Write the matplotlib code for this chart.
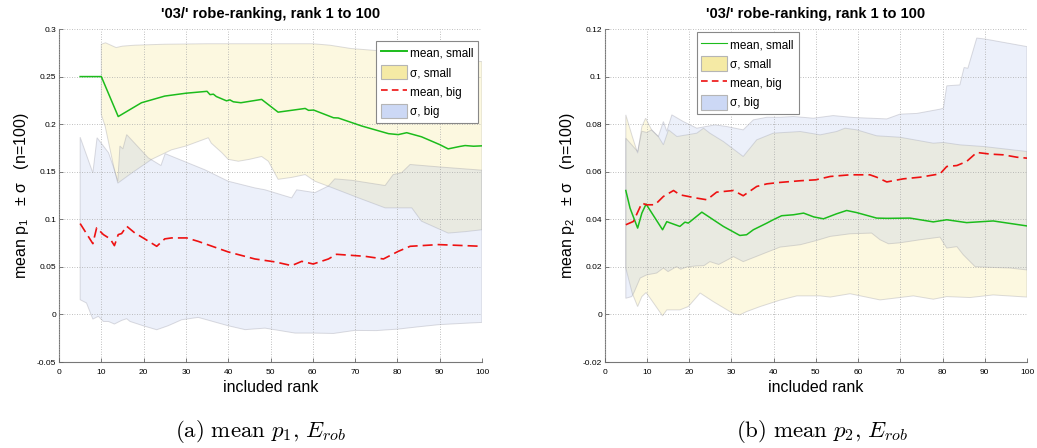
import numpy as np
import matplotlib
matplotlib.use("Agg")
import matplotlib.pyplot as plt
from matplotlib.lines import Line2D
from matplotlib.patches import Patch

plt.rcParams['font.family'] = ['Liberation Sans', 'DejaVu Sans']
plt.rcParams['mathtext.fontset'] = 'custom'
plt.rcParams['mathtext.rm'] = 'Liberation Sans'
plt.rcParams['mathtext.it'] = 'Liberation Sans'

# ---------------- left panel: mean p1 ----------------
l_small_mean_x = [5, 10, 14, 19.5, 25, 30, 35, 35.7, 36.5, 37.2, 38, 39.6, 40.4, 41.2, 43, 47.9, 51.8,
                  58.2, 59, 60.2, 64.9, 66, 71.6, 77.9, 80.2, 82.2, 85.7, 90, 92, 94.7, 96, 98, 100]
l_small_mean = [0.25, 0.25, 0.208, 0.2225, 0.2295, 0.2325, 0.2345, 0.231, 0.2315, 0.229, 0.2275, 0.2245,
                0.2255, 0.2235, 0.2225, 0.226, 0.2126, 0.2165, 0.2145, 0.2148, 0.2067, 0.2065, 0.198,
                0.190, 0.189, 0.191, 0.1867, 0.1785, 0.174, 0.1765, 0.1775, 0.1768, 0.1772]

l_big_mean_x = [5, 8, 8.9, 10.5, 12.1, 13.1, 14, 14.8, 16, 17.9, 19.9, 23.1, 25, 26.6, 30.2, 32.9, 40,
                46.3, 51.1, 55, 57.4, 60.1, 63.7, 65.6, 72.3, 76.7, 80.2, 83, 89.7, 100]
l_big_mean = [0.0955, 0.0744, 0.091, 0.0839, 0.0794, 0.0723, 0.0839, 0.085, 0.0927, 0.0857, 0.0804,
              0.0716, 0.0794, 0.0804, 0.0804, 0.0768, 0.0657, 0.0583, 0.0552, 0.0513, 0.0558, 0.053,
              0.0583, 0.0632, 0.0611, 0.0583, 0.0663, 0.0716, 0.0734, 0.0716]

l_small_up_x = [10, 11, 13.5, 15, 18, 25, 35, 50, 60, 64, 69, 76, 82, 88, 94, 100]
l_small_up = [0.284, 0.2855, 0.2805, 0.282, 0.283, 0.284, 0.2845, 0.2845, 0.2845, 0.283, 0.2795,
              0.277, 0.2745, 0.2715, 0.268, 0.2657]
l_small_lo_x = [10, 10.9, 12.9, 13.9, 17, 21.9, 26.6, 30, 35.3, 36, 38.5, 40, 42.4, 45, 47.9, 49.5,
                51.8, 55, 58.2, 60.5, 63.7, 70.8, 77.1, 83.4, 85.7, 92, 96, 100]
l_small_lo = [0.21, 0.198, 0.156, 0.138, 0.148, 0.163, 0.173, 0.177, 0.1857, 0.180, 0.170, 0.163,
              0.161, 0.163, 0.166, 0.161, 0.142, 0.144, 0.147, 0.140, 0.1347, 0.1225, 0.112, 0.112,
              0.098, 0.0855, 0.087, 0.089]

l_big_up_x = [5, 8, 9, 11.7, 12.8, 13.9, 14.4, 15.1, 16, 21.1, 24.1, 25.1, 34.5, 40, 46.3, 48.7, 55,
              56.2, 60.5, 63.7, 65.2, 69.2, 77.1, 79, 81, 83, 90, 100]
l_big_up = [0.1863, 0.1488, 0.1857, 0.170, 0.156, 0.140, 0.177, 0.174, 0.189, 0.1646, 0.1565, 0.169,
            0.152, 0.140, 0.133, 0.131, 0.1225, 0.131, 0.128, 0.135, 0.1425, 0.141, 0.1355, 0.147,
            0.149, 0.1576, 0.155, 0.1516]
l_big_lo_x = [5, 6.5, 8, 9.3, 10.5, 11.7, 13.1, 14.8, 16, 16.8, 19.9, 23.1, 25.8, 29, 32.9, 40, 44,
              48.7, 55.8, 60.1, 64.9, 69.9, 75, 80.2, 85, 89.7, 95, 100]
l_big_lo = [0.0155, 0.012, -0.0049, -0.002, -0.0074, -0.0074, -0.0101, -0.0063, -0.0045, -0.0074,
            -0.0119, -0.0161, -0.0119, -0.0056, -0.0031, -0.0119, -0.016, -0.0144, -0.0196, -0.0196,
            -0.020, -0.0168, -0.017, -0.0154, -0.013, -0.0108, -0.0095, -0.0084]

# ---------------- right panel: mean p2 ----------------
r_small_mean_x = [5, 6, 7.8, 8.8, 9.8, 13.7, 14.7, 17.8, 19, 19.8, 23, 28.1, 32, 33.6, 35.2, 36.8, 38.4,
                  39.9, 41.9, 44.7, 47.1, 49.5, 51.8, 54.9, 57.3, 59.7, 64.4, 66.8, 72.3, 77.8, 81,
                  85.7, 92, 100]
r_small_mean = [0.0521, 0.0447, 0.0363, 0.0426, 0.0464, 0.0356, 0.039, 0.037, 0.0388, 0.0384, 0.043,
                0.037, 0.0332, 0.0335, 0.0356, 0.037, 0.0384, 0.0398, 0.0415, 0.0419, 0.0426, 0.041,
                0.0402, 0.0423, 0.0437, 0.0428, 0.0405, 0.0404, 0.0405, 0.0389, 0.0398, 0.0386,
                0.0393, 0.0372]

r_big_mean_x = [5, 6.8, 8.8, 9.9, 11.9, 13.9, 16.3, 17.8, 21.8, 24.2, 26.5, 30.5, 32.8, 36, 38.4, 41.5,
                46.3, 50, 53.4, 58.1, 62.8, 64.4, 66.8, 70.7, 74.7, 79.4, 81, 83.4, 85.7, 88.1, 91.3,
                94.4, 97.6, 100]
r_big_mean = [0.0377, 0.0391, 0.0468, 0.0461, 0.0461, 0.0496, 0.0521, 0.0503, 0.0489, 0.0482, 0.0514,
              0.0521, 0.0499, 0.0538, 0.0549, 0.0555, 0.0562, 0.0566, 0.058, 0.0587, 0.0587, 0.0577,
              0.0557, 0.057, 0.0577, 0.0591, 0.0622, 0.0626, 0.0643, 0.0681, 0.0674, 0.0671, 0.0661,
              0.0657]

r_small_up_x = [5, 6.5, 7.8, 8.8, 9.7, 11.1, 12.7, 13.9, 15.1, 17.1, 21.8, 23.4, 24.9, 28.1, 32.8, 36,
                39.9, 46.3, 51, 54.9, 56.9, 59.7, 64.4, 69.9, 77.8, 80.2, 84.1, 89.7, 100]
r_small_up = [0.0839, 0.075, 0.0678, 0.079, 0.0825, 0.0776, 0.0748, 0.0713, 0.0776, 0.0748, 0.0762,
              0.0783, 0.0762, 0.0727, 0.0664, 0.0734, 0.0762, 0.0769, 0.0755, 0.0769, 0.0783, 0.0776,
              0.0751, 0.0745, 0.072, 0.0723, 0.0713, 0.0706, 0.0685]
r_small_lo_x = [5, 6.5, 7.8, 8.8, 9.8, 11.1, 13.7, 14.7, 17.8, 19.8, 22.6, 25.7, 30.5, 32, 33.6, 36.8,
                41.5, 45.5, 51, 53.4, 58.1, 65.2, 73.1, 77.8, 81, 86.5, 92, 100]
r_small_lo = [0.0195, 0.009, 0.0033, 0.0075, 0.0092, 0.006, -0.0006, 0.0019, 0.0019, 0.0033, 0.009,
              0.0054, 0.0003, -0.0002, 0.0012, 0.0033, 0.006, 0.0078, 0.0078, 0.0073, 0.0087, 0.0061,
              0.0078, 0.0064, 0.0075, 0.0071, 0.0082, 0.0073]

r_big_up_x = [5, 7.8, 8.8, 10, 11.1, 12.7, 13.9, 14.7, 15.9, 18.6, 21.8, 24.9, 26.1, 28.9, 32.8, 35.2,
              38.4, 41.5, 44.7, 49.4, 54.1, 58.9, 66.8, 69.9, 73.9, 79.4, 80.2, 81, 84.1, 85.1, 86,
              88.1, 90, 100]
r_big_up = [0.0741, 0.0685, 0.077, 0.0765, 0.0776, 0.0748, 0.0811, 0.077, 0.0839, 0.0811, 0.0783,
            0.0793, 0.0797, 0.079, 0.0776, 0.0818, 0.0829, 0.0829, 0.0832, 0.0825, 0.0836, 0.0828,
            0.0822, 0.0842, 0.0845, 0.0863, 0.0867, 0.0961, 0.0965, 0.1038, 0.1035, 0.1162, 0.1158,
            0.1126]
r_big_lo_x = [5, 6.4, 7, 8.4, 9.9, 12.3, 13.9, 15, 17, 18, 19.5, 21.8, 23.5, 24.9, 27, 30.5, 32.8, 36.8,
              41.5, 46.3, 50, 53.4, 58.1, 63.2, 65.2, 67.2, 69.9, 74.7, 79.4, 81, 83.4, 84.9, 87.7,
              89.7, 96, 100]
r_big_lo = [0.0068, 0.0075, 0.0095, 0.0153, 0.0166, 0.0174, 0.0195, 0.018, 0.0201, 0.019, 0.020,
            0.0204, 0.0205, 0.0222, 0.021, 0.0243, 0.0222, 0.025, 0.0283, 0.0293, 0.031, 0.0328,
            0.0339, 0.0342, 0.0314, 0.0297, 0.0301, 0.0314, 0.0325, 0.0279, 0.0285, 0.0251, 0.0201,
            0.0199, 0.0195, 0.0187]

x_ticks = [0, 10, 20, 30, 40, 50, 60, 70, 80, 90, 100]
l_yticks = [-0.05, 0, 0.05, 0.1, 0.15, 0.2, 0.25, 0.3]
l_ytick_labels = ['-0.05', '0', '0.05', '0.1', '0.15', '0.2', '0.25', '0.3']
r_yticks = [-0.02, 0, 0.02, 0.04, 0.06, 0.08, 0.1, 0.12]
r_ytick_labels = ['-0.02', '0', '0.02', '0.04', '0.06', '0.08', '0.1', '0.12']

title = "'03/' robe-ranking, rank 1 to 100"

GREEN = '#1cbc1c'
RED = '#ee1111'
YELLOW_FILL = (240/255, 220/255, 100/255, 0.2)
BLUE_FILL = (160/255, 180/255, 230/255, 0.2)
EDGE = (0.55, 0.55, 0.6, 0.3)


def band(ax, ux, uy, lx, ly, fc):
    # polygon: upper edge then lower edge reversed
    px = np.concatenate([ux, lx[::-1]])
    py = np.concatenate([uy, ly[::-1]])
    ax.fill(px, py, facecolor=fc, edgecolor=EDGE, linewidth=0.7, zorder=1)


def panel(ax, sm, small_band, bm, big_band, yticks, ylabels, ylabel, legend_loc, legend_lw):
    band(ax, *small_band, YELLOW_FILL)
    band(ax, *big_band, BLUE_FILL)
    ax.plot(sm[0], sm[1], color=GREEN, lw=1.1, zorder=3)
    ln, = ax.plot(bm[0], bm[1], color=RED, lw=1.2, zorder=3)
    ln.set_dashes([6, 3])

    ax.set_xlim(0, 100)
    ax.set_ylim(yticks[0], yticks[-1])
    ax.set_xticks(x_ticks)
    ax.set_xticklabels([str(t) for t in x_ticks])
    ax.set_yticks(yticks)
    ax.set_yticklabels(ylabels)
    ax.tick_params(direction='in', length=3, width=0.6, color='#666666', labelsize=6)
    ax.tick_params(axis='x', pad=5)
    ax.tick_params(axis='y', pad=2)
    ax.grid(True, linestyle=(0, (1, 2)), color='#aaaaaa', linewidth=0.6)
    ax.set_axisbelow(False)
    for s in ['top', 'right']:
        ax.spines[s].set_visible(False)
    for s in ['left', 'bottom']:
        ax.spines[s].set_color('#777777')
        ax.spines[s].set_linewidth(0.8)
    ax.set_title(title, fontsize=10.5, fontweight='bold', pad=8)
    ax.set_xlabel('included rank', fontsize=11.5, labelpad=3)
    ax.set_ylabel(ylabel, fontsize=11.5, labelpad=4)

    handles = [Line2D([], [], color=GREEN, lw=legend_lw),
               Patch(facecolor='#f5eaa5', edgecolor='#b5b5b5', lw=0.8),
               Line2D([], [], color=RED, lw=1.2, dashes=[4, 2.5]),
               Patch(facecolor='#ccd8f5', edgecolor='#b5b5b5', lw=0.8)]
    labels = ['mean, small', '\u03c3, small', 'mean, big', '\u03c3, big']
    leg = ax.legend(handles, labels, loc=legend_loc[0], bbox_to_anchor=legend_loc[1], fontsize=8.5,
                    frameon=True, fancybox=False, framealpha=1, edgecolor='#888888',
                    handlelength=2.2, handleheight=1.5, handletextpad=0.25, labelspacing=0.42,
                    borderpad=0.4, borderaxespad=0)
    leg.get_frame().set_linewidth(0.8)
    leg.set_zorder(5)


fig = plt.figure(figsize=(10.37, 4.48), dpi=100)
ax1 = fig.add_axes([59/1037, 1 - 362/448, (482 - 59)/1037, (362 - 29)/448])
ax2 = fig.add_axes([604.7/1037, 1 - 362/448, (1027 - 604.7)/1037, (362 - 29)/448])

panel(ax1, (l_small_mean_x, l_small_mean),
      (l_small_up_x, l_small_up, l_small_lo_x, l_small_lo),
      (l_big_mean_x, l_big_mean),
      (l_big_up_x, l_big_up, l_big_lo_x, l_big_lo),
      l_yticks, l_ytick_labels, 'mean p$_1$   \u00b1 \u03c3   (n=100)',
      ('upper right', (0.991, 0.964)), 1.4)
panel(ax2, (r_small_mean_x, r_small_mean),
      (r_small_up_x, r_small_up, r_small_lo_x, r_small_lo),
      (r_big_mean_x, r_big_mean),
      (r_big_up_x, r_big_up, r_big_lo_x, r_big_lo),
      r_yticks, r_ytick_labels, 'mean p$_2$   \u00b1 \u03c3   (n=100)',
      ('upper left', (0.218, 0.99)), 0.8)

fig.text(260/1037, 1 - 431/448, r'$\mathrm{(a)\ mean\ }p_1\mathrm{,}\ E_{rob}$', fontsize=16.5,
         ha='center', va='center', math_fontfamily='cm')
fig.text(822/1037, 1 - 431/448, r'$\mathrm{(b)\ mean\ }p_2\mathrm{,}\ E_{rob}$', fontsize=16.5,
         ha='center', va='center', math_fontfamily='cm')

fig.savefig('out.png', dpi=100)
